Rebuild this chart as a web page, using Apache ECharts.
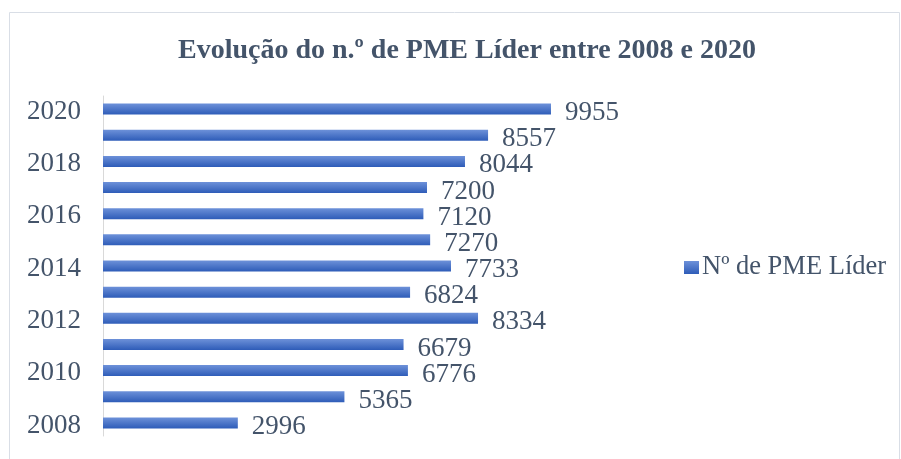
<!DOCTYPE html>
<html>
<head>
<meta charset="utf-8">
<script src="https://cdn.jsdelivr.net/npm/echarts@6/dist/echarts.min.js"></script>
<style>
  html, body { margin: 0; padding: 0; background: #fff; }
  #chart { width: 901px; height: 459px; }
</style>
</head>
<body>
<div id="chart"></div>
<script>
const years = ['2008', '2009', '2010', '2011', '2012', '2013', '2014', '2015', '2016', '2017', '2018', '2019', '2020'];
const pmeLider = [2996, 5365, 6776, 6679, 8334, 6824, 7733, 7270, 7120, 7200, 8044, 8557, 9955];
const seriesName = 'Nº de PME Líder';

const textColor = '#44546a';
const font = '"Liberation Serif", "Times New Roman", serif';

const chart = echarts.init(document.getElementById('chart'));

// bars are lighter on top, darker at the bottom
const barGradient = new echarts.graphic.LinearGradient(0, 0, 0, 1, [
  { offset: 0, color: '#6d91d9' },
  { offset: 1, color: '#2e5cb8' }
]);

chart.setOption({
  animation: false,
  backgroundColor: '#fff',
  title: {
    text: 'Evolução do n.º de PME Líder entre 2008 e 2020',
    left: 462,
    textAlign: 'center',
    top: 32,
    textStyle: { fontFamily: font, fontSize: 28, fontWeight: 'bold', color: textColor }
  },
  legend: {
    data: [seriesName],
    left: 684,
    top: 254,
    padding: 0,
    itemWidth: 15,
    itemHeight: 13,
    itemGap: 6,
    icon: 'rect',
    textStyle: { fontFamily: font, fontSize: 26.5, color: textColor, padding: [0, 0, 0, -2] }
  },
  grid: { left: 103, top: 96, width: 540, height: 340, containLabel: false },
  xAxis: {
    type: 'value',
    min: 0,
    max: 12000,
    show: false
  },
  yAxis: {
    type: 'category',
    data: years,
    axisLine: { lineStyle: { color: '#d9d9d9', width: 1 } },
    axisTick: { show: false },
    axisLabel: {
      interval: 1,
      margin: 22,
      formatter: '{y|{value}}',
      rich: {
        y: { fontFamily: font, fontSize: 27, color: textColor, padding: [5, 0, 0, 0] }
      }
    }
  },
  series: [{
    name: seriesName,
    type: 'bar',
    data: pmeLider,
    barWidth: 11,
    itemStyle: { color: barGradient },
    label: {
      show: true,
      position: 'right',
      distance: 14,
      fontFamily: font,
      fontSize: 27,
      color: textColor,
      offset: [0, 4]
    }
  }],
  graphic: [{
    type: 'rect',
    shape: { x: 9.5, y: 12.5, width: 890, height: 470 },
    style: { fill: null, stroke: '#d9dee6', lineWidth: 1 },
    silent: true
  }]
});
</script>
</body>
</html>
